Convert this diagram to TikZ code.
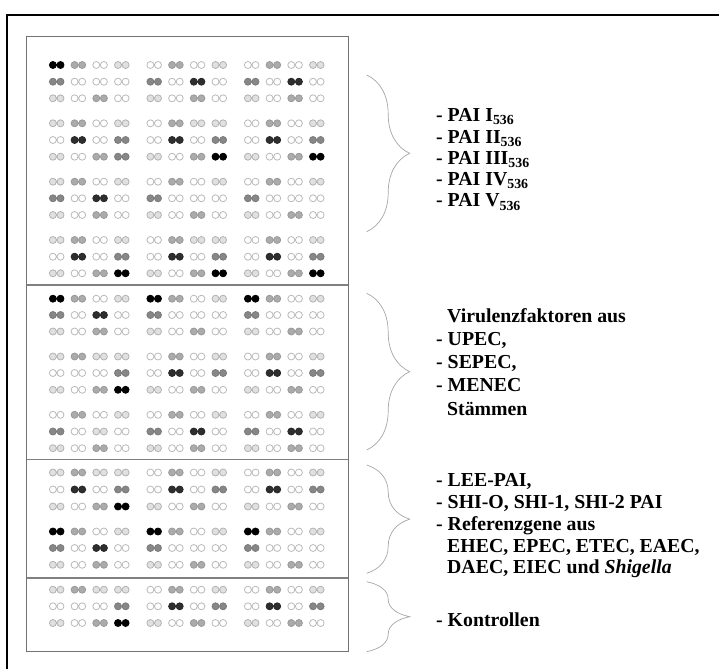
\documentclass[tikz,border=0pt]{standalone}
\usepackage{fontspec}
\setmainfont{Liberation Serif}
\usetikzlibrary{decorations.pathreplacing}

% Graustufen der Spots (0 = leer ... 5 = schwarz)
\colorlet{spot0}{white}
\colorlet{spot1}{black!12}
\colorlet{spot2}{black!33}
\colorlet{spot3}{black!47}
\colorlet{spot4}{black!82}
\colorlet{spot5}{black}
\colorlet{rim0}{black!27}
\colorlet{rim1}{black!30}
\colorlet{rim2}{black!40}
\colorlet{rim3}{black!52}
\colorlet{rim4}{black!85}
\colorlet{rim5}{black}

% Doppelspot: x, y, Stufe
\newcommand{\spotpair}[3]{%
  \filldraw[fill=spot#3, draw=rim#3, line width=0.8pt]
    (#1-3.8,#2) circle (3.5pt) (#1+3.8,#2) circle (3.5pt);}

\begin{document}
\begin{tikzpicture}[x=1pt, y=-1pt,
    panel/.style={draw=black!55, line width=1pt},
    sepline/.style={draw=black!50, line width=1.4pt},
    bracket/.style={draw=black!35, line width=0.7pt, decorate,
      decoration={brace, amplitude=43pt}},
    lbl/.style={anchor=base west, inner sep=0pt,
      font=\bfseries\fontsize{19.8}{21}\selectfont}]
  \useasboundingbox (0,0) rectangle (724,669);

  % Rahmen
  \draw[line width=1.8pt] (7.3,669) -- (7.3,15) -- (719,15);

  % Array
  \draw[panel] (26.7,36.7) rectangle (348,651);
  \draw[sepline] (26.7,285) -- (348,285);
  \draw[sepline] (26.7,459.7) -- (348,459.7);
  \draw[sepline] (26.7,578) -- (348,578);

  % Spots, Zeile fuer Zeile
  \foreach \y/\row in {
      65/{5,2,0,1,0,2,0,1,0,2,0,1},
      81.7/{3,0,0,0,3,0,4,0,3,0,4,0},
      98.3/{1,0,2,0,1,0,2,0,1,0,2,0},
      123.3/{1,2,0,1,0,2,1,1,0,2,0,1},
      140/{0,4,0,3,0,4,0,3,0,4,0,3},
      156.7/{1,0,2,3,1,0,2,5,1,0,2,5},
      181.7/{1,2,0,1,0,2,0,1,0,2,0,1},
      198.3/{3,0,4,0,3,0,0,0,3,0,0,0},
      215/{1,0,2,0,1,0,2,0,1,0,2,0},
      240/{1,2,0,1,0,2,1,1,0,2,0,1},
      256.7/{0,4,0,3,0,4,0,3,0,4,0,3},
      273.3/{1,0,2,5,1,0,2,5,1,0,2,5},
      298.7/{5,2,0,1,5,2,0,1,5,2,0,1},
      315/{3,0,4,0,3,0,0,0,3,0,0,0},
      331.5/{1,0,2,0,1,0,2,0,1,0,2,0},
      356.5/{1,2,1,1,0,2,0,1,0,2,0,1},
      373/{0,0,0,3,0,4,0,3,0,4,0,3},
      389.8/{1,0,2,5,1,0,2,0,1,0,2,0},
      414.8/{0,2,0,1,0,2,0,1,0,2,0,1},
      431.5/{3,0,1,0,3,0,4,0,3,0,4,0},
      448.2/{1,0,2,0,1,0,2,0,1,0,2,0},
      472.5/{1,2,1,1,0,2,0,1,0,2,0,1},
      489.5/{0,4,0,3,0,4,0,3,0,4,0,3},
      506.5/{1,0,2,5,1,0,2,0,1,0,2,0},
      531.5/{5,2,0,1,5,2,0,1,5,2,0,1},
      548/{3,0,4,0,3,0,0,0,3,0,0,0},
      564.8/{1,0,2,0,1,0,2,0,1,0,2,0},
      589.7/{1,2,1,1,0,2,0,1,0,2,0,1},
      606.3/{0,0,0,3,0,4,0,3,0,4,0,3},
      623/{1,0,2,5,1,0,2,0,1,0,2,0}}
    \foreach \c [count=\i] in \row {
      \pgfmathsetmacro{\px}{56.7+97.5*int((\i-1)/4)+21.7*mod(\i-1,4)}
      \spotpair{\px}{\y}{\c}
    };

  % Klammern
  \coordinate (b1t) at (366.7,75);    \coordinate (b1b) at (366.7,231.7);
  \coordinate (b2t) at (366.7,293.3); \coordinate (b2b) at (366.7,450);
  \coordinate (b3t) at (366.7,465);   \coordinate (b3b) at (366.7,573.3);
  \coordinate (b4t) at (366.7,581.7); \coordinate (b4b) at (366.7,651.7);
  \draw[bracket] (b1t) -- (b1b);
  \draw[bracket] (b2t) -- (b2b);
  \draw[bracket] (b3t) -- (b3b);
  \draw[bracket] (b4t) -- (b4b);

  % Beschriftung
  \node[lbl] (pai1) at (436,121.7) {- PAI I\textsubscript{536}};
  \node[lbl] (pai2) at (436,143) {- PAI II\textsubscript{536}};
  \node[lbl] (pai3) at (436,164.3) {- PAI III\textsubscript{536}};
  \node[lbl] (pai4) at (436,185.7) {- PAI IV\textsubscript{536}};
  \node[lbl] (pai5) at (436,207) {- PAI V\textsubscript{536}};

  \node[lbl] (vir1) at (447,322) {Virulenzfaktoren aus};
  \node[lbl] (vir2) at (436,345.3) {- UPEC,};
  \node[lbl] (vir3) at (436,368.6) {- SEPEC,};
  \node[lbl] (vir4) at (436,391.9) {- MENEC};
  \node[lbl] (vir5) at (447,415.2) {Stämmen};

  \node[lbl] (lee1) at (436,486.7) {- LEE-PAI,};
  \node[lbl] (lee2) at (436,508.5) {- SHI-O, SHI-1, SHI-2 PAI};
  \node[lbl] (lee3) at (436,530.3) {- Referenzgene aus};
  \node[lbl] (lee4) at (447,552.1) {EHEC, EPEC, ETEC, EAEC,};
  \node[lbl] (lee5) at (447,573.9) {DAEC, EIEC und \textit{Shigella}};

  \node[lbl] (ctrl) at (436,626.7) {- Kontrollen};
\end{tikzpicture}
\end{document}
